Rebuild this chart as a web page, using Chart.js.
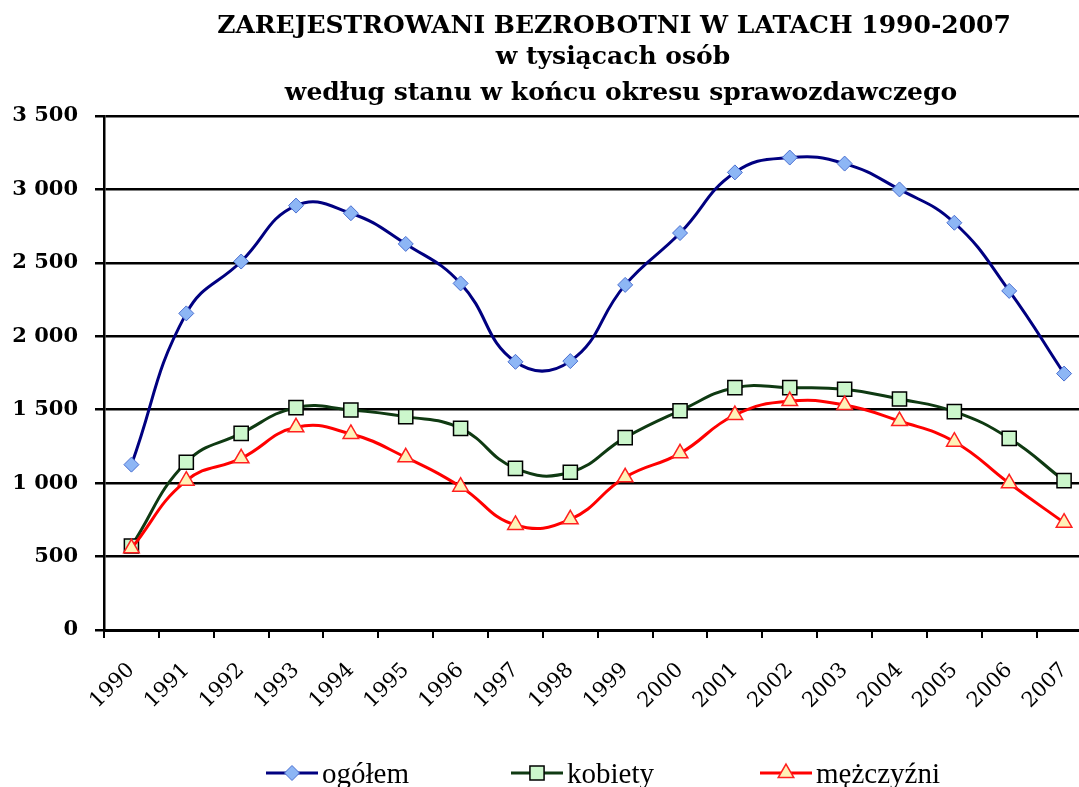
<!DOCTYPE html>
<html>
<head>
<meta charset="utf-8">
<script src="https://cdn.jsdelivr.net/npm/chart.js@4.4.1/dist/chart.umd.min.js"></script>
<style>
  html, body { margin: 0; padding: 0; background: #fff; overflow: hidden; }
  #wrap { width: 1103px; height: 787px; position: relative; }
</style>
</head>
<body>
<div id="wrap"><canvas id="bezrobotniChart"></canvas></div>
<script>
// dane - tysiace osob, stan na koniec roku
const lata = ['1990', '1991', '1992', '1993', '1994', '1995', '1996', '1997', '1998',
  '1999', '2000', '2001', '2002', '2003', '2004', '2005', '2006', '2007'];
const ogolem = [1126, 2156, 2509, 2890, 2838, 2629, 2360, 1826, 1831,
  2350, 2703, 3116, 3217, 3176, 3000, 2773, 2309, 1746];
const kobiety = [572, 1142, 1339, 1514, 1498, 1453, 1373, 1101, 1074,
  1310, 1493, 1650, 1650, 1639, 1573, 1487, 1305, 1017];
const mezczyzni = [556, 1017, 1169, 1380, 1335, 1176, 976, 715, 754,
  1040, 1203, 1464, 1559, 1532, 1423, 1282, 999, 731];
const yEtykiety = ['0', '500', '1 000', '1 500', '2 000', '2 500', '3 000', '3 500'];
const tytul = ['ZAREJESTROWANI BEZROBOTNI W LATACH 1990-2007', 'w tysiącach osób',
  'według stanu w końcu okresu sprawozdawczego'];
const nazwySerii = ['ogółem', 'kobiety', 'mężczyźni'];

// tytul rysowany recznie, zeby byl przesuniety jak w oryginale
const tytulPlugin = {
  id: 'tytul',
  afterDraw(chart) {
    const c = chart.ctx;
    c.save();
    c.fillStyle = '#000';
    c.textAlign = 'center';
    c.font = 'bold 25px "DejaVu Serif"';
    c.fillText(tytul[0], 614, 33);
    c.fillText(tytul[1], 613, 64);
    c.fillText(tytul[2], 621, 100);
    c.restore();
  }
};

// legenda w stylu excela: linia + znacznik
const legendaPlugin = {
  id: 'legendaExcel',
  afterDraw(chart) {
    const c = chart.ctx;
    const pozycje = [292, 537, 786];
    const y = 773;
    c.save();
    chart.data.datasets.forEach((ds, i) => {
      const x = pozycje[i];
      c.strokeStyle = ds.borderColor;
      c.lineWidth = 3;
      c.beginPath();
      c.moveTo(x - 26, y);
      c.lineTo(x + 26, y);
      c.stroke();
      c.fillStyle = ds.pointBackgroundColor;
      c.strokeStyle = ds.pointBorderColor;
      c.lineWidth = ds.pointBorderWidth;
      Chart.helpers.drawPoint(c, {
        pointStyle: ds.pointStyle,
        radius: ds.pointRadius,
        rotation: 0,
        borderWidth: ds.pointBorderWidth
      }, x, y);
      c.fillStyle = '#000';
      c.font = '29px "Liberation Serif"';
      c.textAlign = 'left';
      c.fillText(nazwySerii[i], x + 30, 783);
    });
    c.restore();
  }
};

const ctx = document.getElementById('bezrobotniChart').getContext('2d');
const bezrobotniChart = new Chart(ctx, {
  type: 'line',
  data: {
    labels: lata,
    datasets: [
      {
        label: nazwySerii[0],
        data: ogolem,
        borderColor: '#000080',
        borderWidth: 3,
        tension: 0.45,
        pointStyle: 'rectRot',
        pointRadius: 7.5,
        pointBackgroundColor: '#8DB6F5',
        pointBorderColor: '#4A6FD0',
        pointBorderWidth: 1,
        order: 3
      },
      {
        label: nazwySerii[1],
        data: kobiety,
        borderColor: '#0F3A12',
        borderWidth: 3,
        tension: 0.45,
        pointStyle: 'rect',
        pointRadius: 10,
        pointBackgroundColor: '#CCF7CC',
        pointBorderColor: '#000',
        pointBorderWidth: 1.5,
        order: 2
      },
      {
        label: nazwySerii[2],
        data: mezczyzni,
        borderColor: '#FF0000',
        borderWidth: 3,
        tension: 0.45,
        pointStyle: 'triangle',
        pointRadius: 9,
        pointBackgroundColor: '#FFF2B8',
        pointBorderColor: '#FF2020',
        pointBorderWidth: 1.5,
        order: 1
      }
    ]
  },
  options: {
    responsive: true,
    maintainAspectRatio: false,
    animation: false,
    layout: {
      padding: { top: 116, right: 0, bottom: 0, left: 0 }
    },
    plugins: {
      legend: { display: false },
      title: { display: false },
      tooltip: { enabled: false }
    },
    scales: {
      x: {
        offset: true,
        grid: {
          offset: true,
          drawOnChartArea: false,
          drawTicks: true,
          tickLength: 8,
          color: '#000',
          lineWidth: 2
        },
        border: { color: '#000', width: 3 },
        ticks: {
          color: '#000',
          minRotation: 45,
          maxRotation: 45,
          padding: 20,
          font: { family: 'DejaVu Serif', size: 21 }
        },
        afterFit: (scale) => { scale.height = 157; }
      },
      y: {
        min: 0,
        max: 3500,
        ticks: {
          stepSize: 500,
          color: '#000',
          padding: 17,
          font: { family: 'DejaVu Serif', size: 21, weight: 'bold' },
          callback: (v, i) => yEtykiety[i]
        },
        grid: {
          color: '#000',
          lineWidth: 2.5,
          tickLength: 9
        },
        border: { color: '#000', width: 2.5 },
        afterFit: (scale) => { scale.width = 104; }
      }
    }
  },
  plugins: [tytulPlugin, legendaPlugin]
});
</script>
</body>
</html>
